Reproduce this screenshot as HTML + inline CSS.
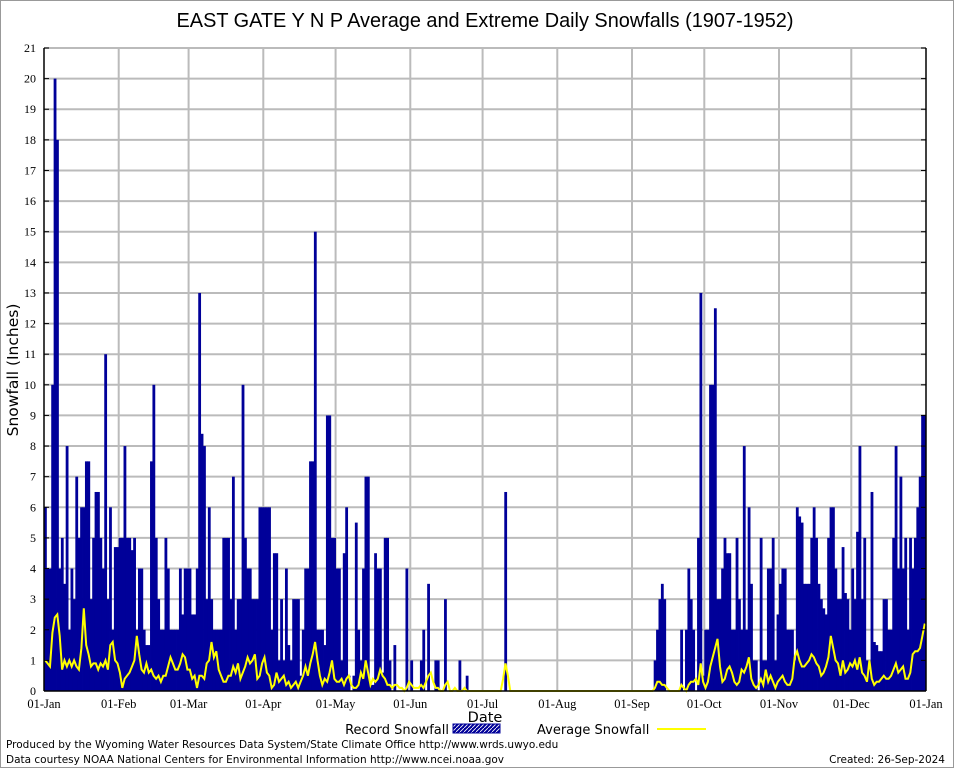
<!DOCTYPE html>
<html><head><meta charset="utf-8"><style>
html,body{margin:0;padding:0;background:#fff;width:954px;height:768px;overflow:hidden}
svg{display:block}
</style></head><body>
<svg id="chart" width="954" height="768" xmlns="http://www.w3.org/2000/svg">
<defs>
<pattern id="hatch" width="4" height="4" patternUnits="userSpaceOnUse">
<rect width="4" height="4" fill="#000099"/><path d="M0,4 L4,0" stroke="#ffffff" stroke-width="0.8"/>
</pattern>
</defs>
<rect x="0.5" y="0.5" width="953" height="767" fill="#fff" stroke="#999"/>
<text x="485" y="27" text-anchor="middle" font-family="Liberation Sans, sans-serif" font-size="19.9">EAST GATE Y N P Average and Extreme Daily Snowfalls (1907-1952)</text>
<g id="grid"></g>
<g id="bars"></g>
<g id="avg"></g>
<g id="axes"></g>
<text transform="translate(18,370) rotate(-90)" text-anchor="middle" font-family="DejaVu Sans, sans-serif" font-size="15.5">Snowfall (Inches)</text>
<text x="485" y="722" text-anchor="middle" font-family="DejaVu Sans, sans-serif" font-size="14.5">Date</text>
<g>
<text x="449" y="734" text-anchor="end" font-family="DejaVu Sans, sans-serif" font-size="13">Record Snowfall</text>
<rect x="453" y="724" width="47" height="9" fill="url(#hatch)" stroke="#000099"/>
<text x="537" y="734" font-family="DejaVu Sans, sans-serif" font-size="13">Average Snowfall</text>
<line x1="657" y1="729" x2="706" y2="729" stroke="#ffff00" stroke-width="2"/>
</g>
<text x="6" y="748" font-family="DejaVu Sans, sans-serif" font-size="10.5">Produced by the Wyoming Water Resources Data System/State Climate Office http://www.wrds.uwyo.edu</text>
<text x="6" y="763" font-family="DejaVu Sans, sans-serif" font-size="10.5">Data courtesy NOAA National Centers for Environmental Information http://www.ncei.noaa.gov</text>
<text x="945" y="763" text-anchor="end" font-family="DejaVu Sans, sans-serif" font-size="10.5">Created: 26-Sep-2024</text>
</svg>
<script>
var monthLabels = ["01-Jan","01-Feb","01-Mar","01-Apr","01-May","01-Jun","01-Jul","01-Aug","01-Sep","01-Oct","01-Nov","01-Dec","01-Jan"];
var monthDays = [31,29,31,30,31,30,31,31,30,31,30,31];
var yTicks = [0,1,2,3,4,5,6,7,8,9,10,11,12,13,14,15,16,17,18,19,20,21];
var recordJan = [6,4,4,10,20,18,4,5,3.5,8,2,4,3,7,5,6,6,7.5,7.5,3,5,6.5,6.5,5,4,11,3,6,2,4.7,4.7];
var recordFeb = [5,5,8,5,5,4.6,5,2,4,4,2,1.5,1.5,7.5,10,5,3,2,2,5,4,2,2,2,2,4,2.5,4,4];
var recordMar = [4,2.5,2.5,4,13,8.4,8,3,6,3,2,2,2,2,5,5,5,3,7,2,3,3,10,5,4,4,3,3,3,6,6];
var recordApr = [6,6,6,2,4.5,4.5,1,3,1,4,1.5,1,3,3,3,0.5,2,4,4,7.5,7.5,15,2,2,2,1.5,9,9,5,5];
var recordMay = [4,4,1,4.5,6,0.5,0,0.5,5.5,2,1,4,7,7,0.2,0.2,4.5,4,4,0.6,5,5,1,0,1.5,0,0,0,0,4,0];
var recordJun = [1,0,0,0,1,2,0,3.5,0,0,1,1,0,0,3,0,0,0,0,0,1,0,0,0.5,0,0,0,0,0,0];
var recordJul = [0,0,0,0,0,0,0,0,0,6.5,0,0,0,0,0,0,0,0,0,0,0,0,0,0,0,0,0,0,0,0,0];
var recordAug = [0,0,0,0,0,0,0,0,0,0,0,0,0,0,0,0,0,0,0,0,0,0,0,0,0,0,0,0,0,0,0];
var recordSep = [0,0,0,0,0,0,0,0,0,1,2,3,3.5,3,0,0,0,0,0,0,2,0,2,4,3,2,0,5,13,0.5];
var recordOct = [2,2,10,10,12.5,3,3,4,5,4.5,4.5,2,2,5,3,2,8,2,6,3.5,1,1,0,5,1,1,4,4,5,1,2.5];
var recordNov = [3.5,4,4,2,2,2,1,6,5.7,5.5,3.5,3.5,3.5,5,6,5,3.5,3,2.7,2.5,5,6,6,4,3,3,4.7,3.2,3,2];
var recordDec = [4,3,5.2,8,3,5,1,1,6.5,1.6,1.5,1.3,1.3,3,3,2,2,5,8,4,7,4,5,2,5,4,5,6,7,9,9];
var avgJan = [1.0,0.9,0.8,1.9,2.4,2.5,1.8,0.7,1.0,0.8,1.0,0.8,1.0,0.8,0.7,1.4,2.7,1.5,1.2,0.8,0.9,0.9,0.7,0.9,0.8,1.0,0.7,1.5,1.6,1.0,0.9];
var avgFeb = [0.6,0.1,0.4,0.5,0.6,0.8,1.0,1.8,1.2,0.7,0.6,0.9,0.6,0.7,0.5,0.4,0.5,0.3,0.5,0.5,0.8,1.1,0.9,0.7,0.7,0.9,1.2,1.1,0.7];
var avgMar = [0.7,0.4,0.5,0.1,0.5,0.5,0.4,0.9,1.0,1.6,1.1,1.3,0.7,0.5,0.3,0.3,0.5,0.5,0.8,0.6,0.9,0.4,0.6,0.8,1.1,0.9,1.0,1.2,0.4,0.5,0.9];
var avgApr = [1.1,0.6,0.5,0.1,0.2,0.6,0.3,0.4,0.5,0.2,0.3,0.1,0.2,0.3,0.1,0.3,0.5,0.8,0.5,0.9,1.2,1.6,1.0,0.5,0.2,0.4,0.3,0.6,1.0,0.4];
var avgMay = [0.3,0.3,0.4,0.2,0.4,0.5,0.2,0.1,0.1,0.2,0.6,0.4,1.0,0.6,0.2,0.4,0.3,0.4,0.7,0.5,0.4,0.2,0.2,0.1,0.2,0.2,0.1,0.1,0,0.1,0.3];
var avgJun = [0.2,0.1,0.1,0.1,0.2,0.1,0.3,0.5,0.6,0.3,0.1,0.1,0,0,0.2,0.3,0,0,0.1,0,0,0,0.1,0,0,0,0,0,0,0];
var avgJul = [0,0,0,0,0,0,0,0,0.4,0.9,0.5,0,0,0,0,0,0,0,0,0,0,0,0,0,0,0,0,0,0,0,0];
var avgAug = [0,0,0,0,0,0,0,0,0,0,0,0,0,0,0,0,0,0,0,0,0,0,0,0,0,0,0,0,0,0,0];
var avgSep = [0,0,0,0,0,0,0,0,0,0.1,0.3,0.3,0.2,0.2,0.1,0,0,0,0,0,0.2,0.1,0,0.2,0.3,0.3,0.4,0.2,0.9,0.3];
var avgOct = [0.1,0.3,0.8,1.1,1.4,1.7,0.8,0.3,0.4,0.7,0.8,0.6,0.3,0.2,0.3,0.7,0.6,0.8,1.1,0.4,0.2,0.1,0.2,0.4,0.2,0.7,0.3,0.5,0.3,0.1,0.3];
var avgNov = [0.4,0.5,0.3,0.2,0.2,0.4,1.1,1.3,1.0,0.8,0.8,0.9,1.0,1.2,1.1,0.9,0.8,0.5,0.6,0.8,1.1,1.8,1.4,1.0,0.9,0.5,1.0,0.6,0.7,0.9];
var avgDec = [0.8,1.0,0.7,1.1,0.6,0.5,0.3,1.0,0.4,0.2,0.3,0.3,0.4,0.5,0.4,0.4,0.5,0.7,0.9,0.6,0.7,0.8,0.4,0.4,0.6,1.2,1.3,1.3,1.4,1.8,2.2];

var record = [].concat(recordJan,recordFeb,recordMar,recordApr,recordMay,recordJun,recordJul,recordAug,recordSep,recordOct,recordNov,recordDec);
var average = [].concat(avgJan,avgFeb,avgMar,avgApr,avgMay,avgJun,avgJul,avgAug,avgSep,avgOct,avgNov,avgDec);

var NS = "http://www.w3.org/2000/svg";
var X0 = 44, X1 = 926, Y0 = 691, Y1 = 48, YMAX = 21;
var totalDays = monthDays.reduce(function(a,b){return a+b;},0);
function xScale(d){ return X0 + (X1 - X0) * d / totalDays; }
function yScale(v){ return Y0 - (Y0 - Y1) * v / YMAX; }
function mk(tag, attrs, parent){
  var e = document.createElementNS(NS, tag);
  for (var k in attrs) e.setAttribute(k, attrs[k]);
  parent.appendChild(e); return e;
}
var grid = document.getElementById('grid');
var axes = document.getElementById('axes');
var bars = document.getElementById('bars');
var avgG = document.getElementById('avg');

yTicks.forEach(function(t){
  var y = yScale(t);
  if (t > 0) {
    var gl = mk('line', {x1:X0, x2:X1, y1:y, y2:y, stroke:'#bbbbbb', 'stroke-width':2}, grid);
    
    
  }
  var tk = mk('line', {x1:X0, x2:X0+5, y1:y, y2:y, stroke:'#000', 'stroke-width':1}, axes);
  
  
  var tk2 = mk('line', {x1:X1-5, x2:X1, y1:y, y2:y, stroke:'#000', 'stroke-width':1}, axes);
  
  
  var lb = mk('text', {x:36, y:y+4, 'text-anchor':'end', 'font-family':'Liberation Serif, serif', 'font-size':12}, axes);
  lb.textContent = t;
  
  
});
var cum = 0;
monthLabels.forEach(function(m, i){
  var x = xScale(cum);
  if (i > 0 && i < monthLabels.length - 1) {
    var gl = mk('line', {x1:x, x2:x, y1:Y1, y2:Y0, stroke:'#bbbbbb', 'stroke-width':2}, grid);
    
    
  }
  var lb = mk('text', {x:x, y:708, 'text-anchor':'middle', 'font-family':'Liberation Serif, serif', 'font-size':12.5}, axes);
  lb.textContent = m;
  
  
  if (i < monthDays.length) cum += monthDays[i];
});
var dw = (X1 - X0) / totalDays;
record.forEach(function(v, d){
  if (v <= 0) return;
  var r = mk('rect', {x:xScale(d), y:yScale(v), width:dw+0.4, height:Y0-yScale(v), fill:'#000099'}, bars);
  
  
});
var pts = average.map(function(v, d){ return xScale(d + 0.5).toFixed(1) + ',' + yScale(v).toFixed(1); }).join(' ');
var pl = mk('polyline', {points:pts, fill:'none', stroke:'#ffff00', 'stroke-width':2}, avgG);


var f1 = mk('line', {x1:X0, x2:X0, y1:Y1, y2:Y0, stroke:'#000', 'stroke-width':1.5}, axes);


var f2 = mk('line', {x1:X0, x2:X1, y1:Y0, y2:Y0, stroke:'#000', 'stroke-width':1.5}, axes);


var f3 = mk('line', {x1:X1, x2:X1, y1:Y1, y2:Y0, stroke:'#000', 'stroke-width':1.5}, axes);


var f4 = mk('line', {x1:X0, x2:X1, y1:Y1, y2:Y1, stroke:'#bbbbbb', 'stroke-width':2}, grid);


</script>
</body></html>
